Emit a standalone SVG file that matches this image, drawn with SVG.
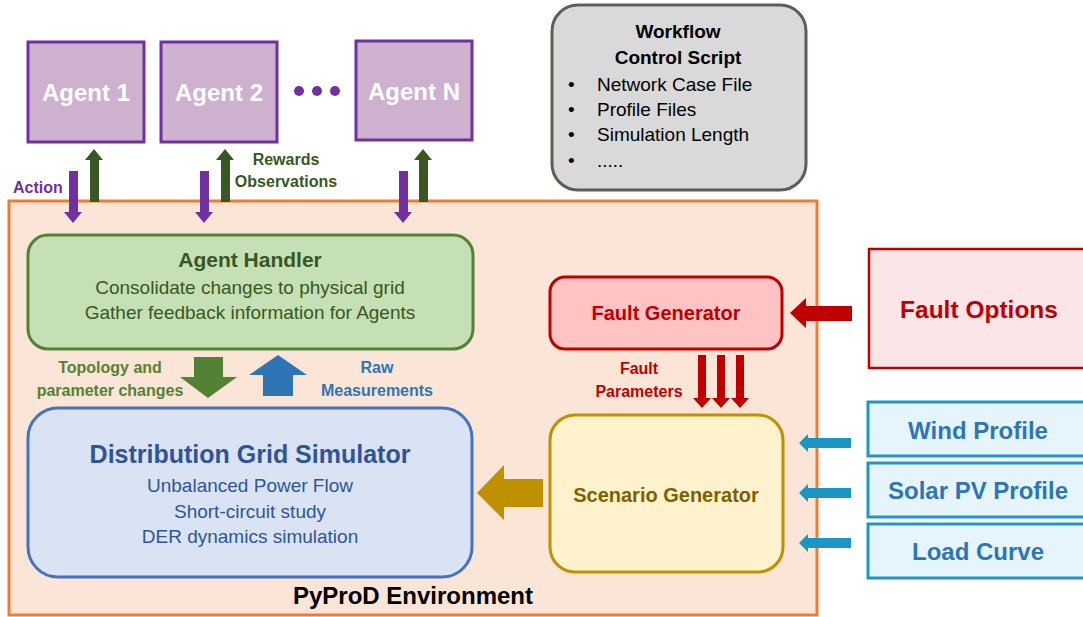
<svg xmlns="http://www.w3.org/2000/svg" width="1083" height="617" viewBox="0 0 1083 617">
<style>
text{font-family:"Liberation Sans",Arial,sans-serif;}
.b{font-weight:bold;}
.c{text-anchor:middle;}
.agent{fill:#CDB1CE;stroke:#7030A0;stroke-width:3;}
.agtx{fill:#FFFFFF;font-size:24px;font-weight:bold;text-anchor:middle;}
.prof{fill:#E6F5FC;stroke:#1F97C3;stroke-width:3;}
.proftx{fill:#2E75B6;font-size:24px;font-weight:bold;text-anchor:middle;}
</style>
<rect width="1083" height="617" fill="#FFFFFF"/>
<g id="env">
<rect x="9" y="201" width="808" height="414" fill="#FBE5D6" stroke="#ED7D31" stroke-width="3"/>
<text x="413" y="604" class="b c" font-size="24" fill="#000000">PyProD Environment</text>
</g>
<g id="agent1"><rect class="agent" x="28" y="42" width="116" height="100"/><text class="agtx" x="86" y="101">Agent 1</text></g>
<g id="agent2"><rect class="agent" x="161" y="42" width="116" height="100"/><text class="agtx" x="219" y="101">Agent 2</text></g>
<g id="dots"><circle cx="299" cy="91" r="5" fill="#7030A0"/><circle cx="317" cy="91" r="5" fill="#7030A0"/><circle cx="335" cy="91" r="5" fill="#7030A0"/></g>
<g id="agentN"><rect class="agent" x="356" y="41" width="116" height="99"/><text class="agtx" x="414" y="100">Agent N</text></g>
<g id="workflow">
<rect x="552" y="5" width="254" height="185" rx="26" fill="#D9D9D9" stroke="#5E5E57" stroke-width="3"/>
<text x="678" y="38" class="b c" font-size="19" fill="#000">Workflow</text>
<text x="678" y="64" class="b c" font-size="19" fill="#000">Control Script</text>
<g font-size="19" fill="#000">
<text x="568" y="91">•</text><text x="597" y="91">Network Case File</text>
<text x="568" y="116">•</text><text x="597" y="116">Profile Files</text>
<text x="568" y="141">•</text><text x="597" y="141">Simulation Length</text>
<text x="568" y="167">•</text><text x="597" y="167">.....</text>
</g>
</g>
<g id="agenthandler">
<rect x="28" y="235" width="445" height="114" rx="20" fill="#C5E0B4" stroke="#548235" stroke-width="3"/>
<text x="250" y="267" class="b c" font-size="21" fill="#385723">Agent Handler</text>
<text x="250" y="294" class="c" font-size="19" fill="#385723">Consolidate changes to physical grid</text>
<text x="250" y="319" class="c" font-size="19" fill="#385723">Gather feedback information for Agents</text>
</g>
<g id="dgs">
<rect x="28" y="408" width="444" height="169" rx="30" fill="#DAE3F3" stroke="#4472C4" stroke-width="3"/>
<text x="250" y="463" class="b c" font-size="25" fill="#2F5597">Distribution Grid Simulator</text>
<text x="250" y="492" class="c" font-size="19" fill="#2F5597">Unbalanced Power Flow</text>
<text x="250" y="518" class="c" font-size="19" fill="#2F5597">Short-circuit study</text>
<text x="250" y="543" class="c" font-size="19" fill="#2F5597">DER dynamics simulation</text>
</g>
<g id="faultgen">
<rect x="550" y="277" width="232" height="72" rx="15" fill="#FFC3C3" stroke="#C00000" stroke-width="3"/>
<text x="666" y="320" class="b c" font-size="20" fill="#C00000">Fault Generator</text>
</g>
<g id="scenario">
<rect x="550" y="415" width="233" height="157" rx="25" fill="#FFF2CC" stroke="#BF9000" stroke-width="3"/>
<text x="666" y="502" class="b c" font-size="20" fill="#7F6000">Scenario Generator</text>
</g>
<g id="faultopt">
<rect x="869" y="249" width="230" height="119" fill="#FBE5E7" stroke="#C00000" stroke-width="2.5"/>
<text x="979" y="318" class="b c" font-size="24.5" fill="#C00000">Fault Options</text>
</g>
<g id="wind"><rect class="prof" x="868" y="402" width="230" height="54"/><text class="proftx" x="978" y="439">Wind Profile</text></g>
<g id="solar"><rect class="prof" x="868" y="463" width="230" height="54"/><text class="proftx" x="978" y="499">Solar PV Profile</text></g>
<g id="load"><rect class="prof" x="868" y="524" width="230" height="54"/><text class="proftx" x="978" y="560">Load Curve</text></g>
<g id="connectors">
<g fill="#7030A0">
<polygon points="69,171 78,171 78,212 82,212 73,223 64,212 69,212"/>
<polygon points="200,171 209,171 209,212 213,212 204,223 195,212 200,212"/>
<polygon points="399,171 408,171 408,212 412,212 403,223 394,212 399,212"/>
</g>
<g fill="#385723">
<polygon points="90,202 99,202 99,160 103,160 94,149 85,160 90,160"/>
<polygon points="221,202 230,202 230,160 234,160 225,149 216,160 221,160"/>
<polygon points="419,202 428,202 428,160 432,160 423,149 414,160 419,160"/>
</g>
<text x="13" y="193" class="b" font-size="16" fill="#7030A0">Action</text>
<text x="286" y="165" class="b c" font-size="16" fill="#385723">Rewards</text>
<text x="286" y="187" class="b c" font-size="16" fill="#385723">Observations</text>
<polygon points="194,357 223,357 223,377 237,377 208,398 180,377 194,377" fill="#548235"/>
<polygon points="263,396 293,396 293,375 307,375 278,355 249,375 263,375" fill="#2E75B6"/>
<text x="110" y="373" class="b c" font-size="16" fill="#548235">Topology and</text>
<text x="110" y="396" class="b c" font-size="16" fill="#548235">parameter changes</text>
<text x="377" y="373" class="b c" font-size="16" fill="#2E75B6">Raw</text>
<text x="377" y="396" class="b c" font-size="16" fill="#2E75B6">Measurements</text>
<polygon points="852,306 806,306 806,298 790,313 806,328 806,321 852,321" fill="#C00000"/>
<g fill="#C00000">
<polygon points="698,355 706,355 706,398 711,398 702,408 693,398 698,398"/>
<polygon points="717,355 725,355 725,398 730,398 721,408 712,398 717,398"/>
<polygon points="736,355 744,355 744,398 749,398 740,408 731,398 736,398"/>
</g>
<text x="639" y="374" class="b c" font-size="16" fill="#C00000">Fault</text>
<text x="639" y="397" class="b c" font-size="16" fill="#C00000">Parameters</text>
<polygon points="543,479 504,479 504,465 477,493 504,520 504,507 543,507" fill="#BF9000"/>
<g fill="#1A96C4">
<polygon points="851,438 808,438 808,434 799,443 808,452 808,448 851,448"/>
<polygon points="851,488 808,488 808,484 799,493 808,502 808,498 851,498"/>
<polygon points="851,538 808,538 808,534 799,543 808,552 808,548 851,548"/>
</g>
</g>
</svg>
